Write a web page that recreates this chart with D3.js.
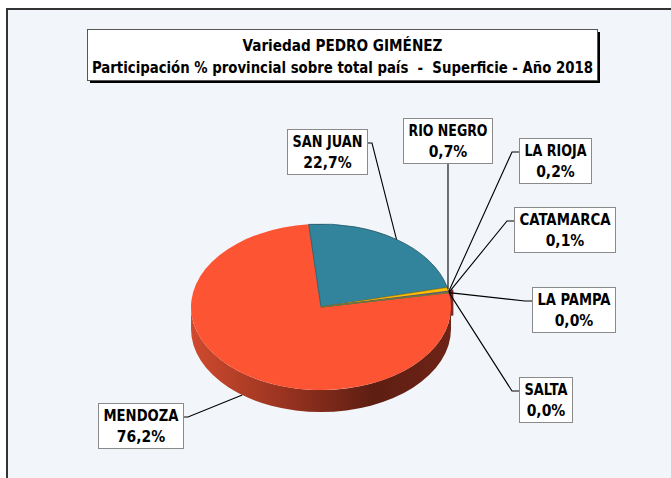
<!DOCTYPE html>
<html>
<head>
<meta charset="utf-8">
<script src="https://cdn.jsdelivr.net/npm/d3@7"></script>
<style>
  html, body { margin: 0; padding: 0; background: #fff; }
  svg { display: block; }
  text { font-family: 'Liberation Sans Narrow', 'DejaVu Sans Condensed', 'Open Sans', sans-serif; font-weight: bold; fill: #000; white-space: pre; }
</style>
</head>
<body>
<svg id="chart"></svg>
<script>
// Data (Excel order: first slice = Mendoza)
const provinces = ["MENDOZA", "SAN JUAN", "RIO NEGRO", "LA RIOJA", "CATAMARCA", "LA PAMPA", "SALTA"];
const shares = [76.2, 22.7, 0.7, 0.2, 0.1, 0.0, 0.0];
const sliceColors = ["#fd5433", "#31849b", "#ffc000", "#8064a2", "#4bacc6", "#f79646", "#9bbb59"];
const titleLines = ["Variedad PEDRO GIMÉNEZ", "Participación % provincial sobre total país  -  Superficie - Año 2018"];

// label box layout (left, top, width) and where the leader attaches
const labelLayout = [
  { x: 98,  y: 403, w: 85,  side: "right" },
  { x: 287, y: 129, w: 80,  side: "right" },
  { x: 403, y: 118, w: 89,  side: "bottom" },
  { x: 519, y: 138, w: 72,  side: "left" },
  { x: 514, y: 207, w: 101, side: "left" },
  { x: 532, y: 287, w: 83,  side: "left" },
  { x: 519, y: 377, w: 53,  side: "left" }
];

const W = 671, H = 478;
const cx = 321, cy = 307, rx = 130, ry = 83, depth = 22;
const firstSliceAngle = 80; // degrees, clockwise from 12 o'clock

const svg = d3.select("#chart").attr("width", W).attr("height", H);

// chart area frame
svg.append("rect")
  .attr("x", 7).attr("y", 9).attr("width", W + 10).attr("height", H + 10)
  .attr("fill", "#f2f6fb").attr("stroke", "#333").attr("stroke-width", 2);

const defs = svg.append("defs");
const sideGrad = defs.append("linearGradient")
  .attr("id", "sideGrad").attr("gradientUnits", "userSpaceOnUse")
  .attr("x1", cx - rx).attr("x2", cx + rx).attr("y1", 0).attr("y2", 0);
sideGrad.append("stop").attr("offset", "0%").attr("stop-color", "#cf4a2f");
sideGrad.append("stop").attr("offset", "35%").attr("stop-color", "#9a3420");
sideGrad.append("stop").attr("offset", "70%").attr("stop-color", "#5e1e12");
sideGrad.append("stop").attr("offset", "100%").attr("stop-color", "#6e2416");

// pie angles
const pie = d3.pie().sort(null).value(d => d)
  .startAngle(firstSliceAngle * Math.PI / 180)
  .endAngle(firstSliceAngle * Math.PI / 180 + 2 * Math.PI);
const arcs = pie(shares);

const pt = (a, f = 1, dy = 0) => [cx + rx * f * Math.sin(a), cy - ry * f * Math.cos(a) + dy];

function topPath(d) {
  const p0 = pt(d.startAngle), p1 = pt(d.endAngle);
  const large = d.endAngle - d.startAngle > Math.PI ? 1 : 0;
  return `M${cx},${cy}L${p0}A${rx},${ry} 0 ${large} 1 ${p1}Z`;
}

function sidePath(a0, a1) {
  const s0 = pt(a0), s1 = pt(a1), b0 = pt(a0, 1, depth), b1 = pt(a1, 1, depth);
  const large = a1 - a0 > Math.PI ? 1 : 0;
  return `M${s0}A${rx},${ry} 0 ${large} 1 ${s1}L${b1}A${rx},${ry} 0 ${large} 0 ${b0}Z`;
}

const g = svg.append("g");

// outer wall: only the front half (90..270 deg) faces the viewer
arcs.forEach((d, i) => {
  const lo = Math.PI / 2, hi = 3 * Math.PI / 2;
  let a0 = d.startAngle % (2 * Math.PI), a1 = a0 + (d.endAngle - d.startAngle);
  const s = Math.max(a0, lo), e = Math.min(a1, hi);
  if (e > s) {
    g.append("path").attr("d", sidePath(s, e))
      .attr("fill", i === 0 ? "url(#sideGrad)" : d3.color(sliceColors[i]).darker(1));
  }
});

// cut wall of the Mendoza slice showing at the rim
const m0 = arcs[0].startAngle;
const w0 = pt(m0 - 0.03, 0.97), w1 = pt(m0 - 0.03, 1.04);
g.append("path")
  .attr("d", `M${w0}L${w1}L${[w1[0], w1[1] + depth + 4]}L${[w0[0], w0[1] + depth + 4]}Z`)
  .attr("fill", "#7b2d2a");

// top faces
g.selectAll("path.top")
  .data(arcs)
  .join("path")
  .attr("class", "top")
  .attr("d", topPath)
  .attr("fill", (d, i) => sliceColors[i])
  .attr("stroke", (d, i) => i === 0 ? "none" : d3.color(sliceColors[i]).darker(1.2))
  .attr("stroke-width", (d, i) => i === 1 ? 0.8 : 0.6)
  .attr("stroke-linejoin", "round");

// title
svg.append("rect").attr("x", 90).attr("y", 32).attr("width", 510).attr("height", 51).attr("fill", "#000");
svg.append("rect").attr("x", 87.5).attr("y", 29.5).attr("width", 510).attr("height", 51)
  .attr("fill", "#fff").attr("stroke", "#555").attr("stroke-width", 1);
const titleWidths = [200, 501];
titleLines.forEach((t, i) => {
  svg.append("text")
    .attr("x", 342.5).attr("y", 51 + i * 22)
    .attr("text-anchor", "middle")
    .attr("xml:space", "preserve")
    .style("font-size", "16px")
    .attr("textLength", titleWidths[i]).attr("lengthAdjust", "spacingAndGlyphs")
    .text(t);
});

// labels with leader lines
const fmt = d3.formatLocale({ decimal: ",", thousands: ".", grouping: [3], currency: ["$", ""] }).format(".1f");
const boxH = 45;
const lines = svg.append("g").attr("fill", "none").attr("stroke", "#000").attr("stroke-width", 1.1);
const labels = svg.append("g");

arcs.forEach((d, i) => {
  const L = labelLayout[i];
  const mid = (d.startAngle + d.endAngle) / 2;
  const norm = mid % (2 * Math.PI);
  const front = norm > Math.PI / 2 && norm < 3 * Math.PI / 2;
  const anchor = pt(mid, 1, i === 0 && front ? depth : 0);
  let pts;
  const my = L.y + 14;
  if (L.side === "bottom") pts = [anchor, [anchor[0], L.y + boxH]];
  else if (L.side === "right") pts = [anchor, [L.x + L.w + 5, my], [L.x + L.w, my]];
  else pts = [anchor, [L.x - 7, my], [L.x, my]];
  lines.append("path").attr("d", d3.line()(pts));

  labels.append("rect")
    .attr("x", L.x + 0.5).attr("y", L.y + 0.5).attr("width", L.w).attr("height", boxH)
    .attr("fill", "#fff").attr("stroke", "#8a8a8a").attr("stroke-width", 1);
  [provinces[i], fmt(shares[i]) + "%"].forEach((t, j) => {
    const tx = labels.append("text")
      .attr("x", L.x + L.w / 2 + 0.5).attr("y", L.y + 18 + j * 21)
      .attr("text-anchor", "middle")
      .style("font-size", "15.5px")
      .text(t);
    const len = tx.node().getComputedTextLength();
    if (len > L.w - 10) tx.attr("textLength", L.w - 10).attr("lengthAdjust", "spacingAndGlyphs");
  });
});
</script>
</body>
</html>
